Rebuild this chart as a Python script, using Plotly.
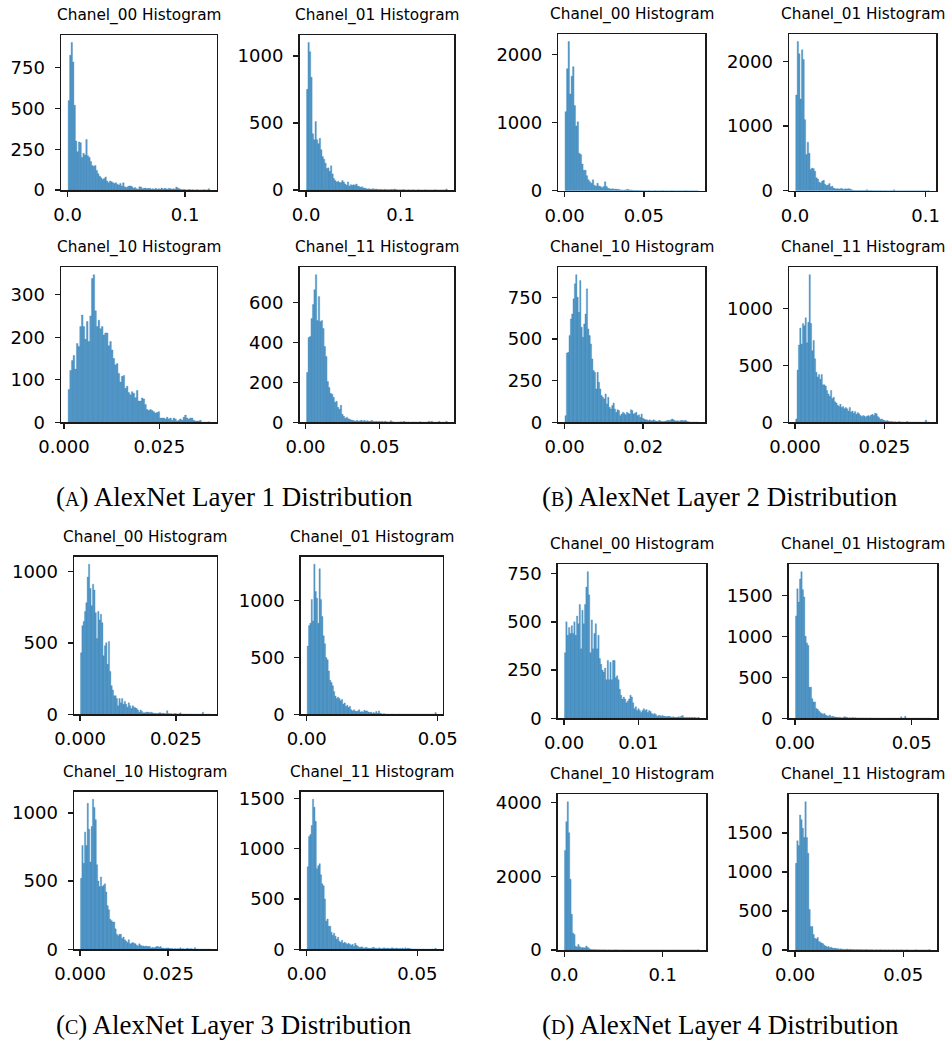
import plotly.graph_objects as go

W, H = 947, 1044

# ---------------- data (bin counts) ----------------
names = ["Chanel_00 Histogram", "Chanel_01 Histogram", "Chanel_10 Histogram", "Chanel_11 Histogram"]
captions = ["(<span style='font-size:20px'>A</span>) AlexNet Layer 1 Distribution",
            "(<span style='font-size:20px'>B</span>) AlexNet Layer 2 Distribution",
            "(<span style='font-size:20px'>C</span>) AlexNet Layer 3 Distribution",
            "(<span style='font-size:20px'>D</span>) AlexNet Layer 4 Distribution"]

# value range covered by the bins of each panel (lo, hi)
a00_range = [0.00035, 0.12096]
a01_range = [0.0004, 0.1493]
a10_range = [0.00107, 0.03818]
a11_range = [0.0007, 0.0957]
b00_range = [0.0002, 0.08439]
b01_range = [0.00052, 0.1028]
b10_range = [0.0001, 0.03404]
b11_range = [0.00019, 0.03759]
c00_range = [0.0001, 0.03396]
c01_range = [0.00017, 0.04945]
c10_range = [0.0001, 0.03694]
c11_range = [0.0002, 0.05853]
d00_range = [0.00005, 0.0182]
d01_range = [0.00018, 0.05797]
d10_range = [0.0002, 0.1371]
d11_range = [0.00015, 0.0625]

a00_counts = [548, 826, 905, 785, 520, 300, 235, 295, 290, 200,
              225, 215, 310, 210, 200, 175, 150, 145, 150, 120,
              100, 85, 75, 65, 70, 80, 55, 45, 55, 50,
              45, 40, 45, 35, 30, 40, 25, 45, 20, 15,
              20, 25, 25, 20, 10, 15, 8, 5, 20, 18,
              8, 10, 12, 8, 10, 10, 5, 8, 5, 10,
              5, 8, 5, 12, 5, 10, 8, 5, 10, 8,
              5, 8, 5, 18, 12, 8, 3, 2, 3, 2,
              0, 2, 3, 0, 2, 0, 0, 2, 0, 0,
              0, 0, 2, 0, 0, 8]
a01_counts = [750, 1100, 1030, 840, 420, 375, 510, 375, 345, 385,
              300, 250, 230, 200, 160, 165, 140, 180, 120, 85,
              70, 60, 65, 55, 55, 70, 60, 45, 35, 60,
              30, 40, 35, 40, 35, 45, 30, 25, 20, 25,
              15, 15, 10, 8, 10, 5, 8, 10, 5, 8,
              5, 3, 5, 3, 2, 5, 3, 2, 3, 2,
              5, 2, 8, 3, 2, 0, 2, 0, 3, 2,
              0, 0, 2, 0, 0, 2, 0, 0, 0, 2,
              0, 0, 0, 0, 2, 0, 0, 0, 0, 0,
              0, 2, 0, 0, 0, 0, 0, 0, 0, 8]
a10_counts = [77, 122, 145, 157, 125, 185, 178, 225, 252, 225,
              195, 237, 190, 250, 338, 347, 262, 225, 240, 220,
              225, 205, 210, 210, 180, 190, 170, 150, 135, 138,
              115, 95, 108, 110, 80, 85, 70, 65, 72, 68,
              58, 75, 50, 50, 57, 55, 42, 30, 28, 30,
              28, 25, 22, 23, 25, 10, 10, 10, 8, 12,
              8, 10, 5, 10, 8, 3, 5, 8, 5, 12,
              17, 10, 7, 10, 10, 5, 3, 3, 3, 5,
              0, 0, 0, 0, 1]
a11_counts = [250, 425, 430, 520, 590, 665, 740, 510, 630, 505,
              510, 470, 380, 330, 205, 175, 145, 140, 125, 100,
              105, 75, 65, 85, 40, 30, 20, 25, 18, 15,
              12, 10, 8, 5, 10, 5, 8, 10, 5, 10,
              5, 8, 5, 5, 10, 5, 3, 5, 3, 5,
              3, 5, 2, 5, 3, 2, 2, 8, 3, 2,
              0, 0, 2, 0, 3, 0, 5, 2, 0, 2,
              0, 0, 2, 0, 2, 0, 0, 3, 0, 0,
              0, 0, 0, 5, 2, 5, 0, 0, 0, 0,
              5, 0, 0, 0, 0, 5]
b00_counts = [1160, 1790, 2190, 1420, 1680, 1820, 1250, 950, 1010, 550,
              530, 390, 300, 300, 220, 160, 130, 110, 160, 80,
              65, 110, 70, 60, 45, 60, 130, 60, 35, 30,
              25, 30, 20, 25, 20, 20, 10, 12, 8, 10,
              15, 20, 10, 12, 5, 5, 3, 5, 3, 2,
              2, 0, 2, 0, 0, 2, 0, 0, 0, 2,
              0, 0, 0, 0, 2, 0, 0, 0, 0, 0,
              2, 0, 0, 0, 0, 0, 0, 0, 0, 2,
              0, 0, 0, 0, 0, 0, 0, 1]
b01_counts = [1480, 2310, 2120, 1420, 2180, 2030, 1100, 560, 750, 580,
              330, 350, 340, 300, 200, 180, 130, 120, 150, 160,
              100, 80, 90, 110, 60, 70, 40, 30, 30, 30,
              25, 35, 30, 20, 30, 25, 30, 30, 20, 10,
              5, 5, 3, 5, 2, 5, 3, 2, 3, 15,
              3, 2, 3, 2, 0, 2, 0, 2, 0, 2,
              0, 0, 2, 0, 0, 0, 2, 0, 15, 0,
              0, 0, 0, 0, 0, 0, 0, 0, 0, 0,
              0, 0, 0, 0, 0, 0, 0, 0, 0, 0,
              0, 0, 2]
b10_counts = [40, 415, 420, 520, 620, 650, 740, 830, 885, 750,
              660, 850, 570, 510, 590, 650, 800, 560, 520, 470,
              380, 310, 300, 200, 300, 240, 200, 160, 150, 140,
              170, 110, 150, 90, 80, 100, 115, 80, 60, 75,
              70, 40, 50, 60, 55, 45, 60, 55, 50, 75,
              70, 50, 55, 60, 40, 45, 30, 50, 25, 20,
              15, 15, 10, 15, 10, 10, 15, 10, 8, 5,
              12, 10, 5, 5, 5, 8, 10, 12, 10, 15,
              20, 15, 10, 8, 10, 5, 10, 12, 10, 10,
              12, 5, 3, 2, 0, 0, 2, 0, 0, 2]
b11_counts = [30, 460, 680, 830, 690, 870, 850, 920, 700, 880,
              1300, 870, 630, 720, 560, 440, 400, 420, 380, 420,
              330, 330, 320, 280, 250, 230, 280, 210, 220, 180,
              170, 150, 140, 160, 130, 140, 120, 130, 120, 100,
              130, 90, 100, 80, 95, 70, 85, 75, 60, 50,
              60, 55, 45, 55, 60, 50, 65, 70, 60, 80,
              75, 50, 40, 25, 30, 20, 15, 10, 15, 10,
              5, 8, 5, 3, 5, 3, 2, 8, 3, 2,
              2, 0, 2, 8, 0, 2, 0, 0, 2, 0,
              0, 0, 2, 0, 0, 0, 2, 20, 0, 3]
c00_counts = [430, 620, 650, 720, 780, 960, 1050, 880, 760, 910,
              870, 710, 530, 720, 660, 700, 640, 410, 480, 500,
              350, 510, 300, 200, 170, 130, 130, 110, 60, 110,
              80, 110, 70, 90, 70, 50, 80, 60, 40, 60,
              50, 45, 40, 30, 15, 30, 20, 10, 10, 15,
              15, 15, 10, 15, 10, 5, 8, 5, 5, 10,
              10, 5, 8, 5, 3, 25, 5, 3, 5, 2,
              3, 5, 3, 2, 3, 10, 2, 0, 2, 0,
              2, 0, 0, 2, 0, 0, 0, 0, 0, 0,
              0, 2, 15, 0, 0, 0, 0, 2]
c01_counts = [600, 780, 800, 1010, 820, 1320, 1080, 1020, 800, 1280,
              1010, 860, 690, 620, 500, 480, 380, 300, 280, 250,
              200, 160, 140, 150, 140, 120, 130, 90, 100, 70,
              80, 60, 70, 40, 30, 40, 30, 25, 30, 40,
              20, 25, 20, 35, 30, 30, 20, 15, 20, 10,
              15, 10, 25, 10, 30, 10, 5, 3, 5, 2,
              0, 2, 0, 0, 2, 0, 0, 0, 0, 2,
              0, 0, 0, 0, 0, 0, 2, 0, 0, 0,
              0, 0, 0, 0, 0, 0, 0, 0, 0, 0,
              0, 0, 0, 0, 0, 0, 0, 15]
c10_counts = [520, 760, 630, 860, 760, 1070, 880, 640, 900, 1100,
              1040, 950, 620, 500, 460, 530, 460, 470, 480, 420,
              320, 290, 220, 210, 200, 200, 150, 110, 100, 110,
              110, 80, 90, 70, 60, 50, 70, 40, 45, 50,
              45, 40, 30, 25, 40, 30, 25, 25, 20, 25,
              20, 20, 20, 10, 15, 10, 15, 20, 20, 15,
              20, 10, 10, 5, 8, 10, 10, 5, 5, 5,
              3, 5, 3, 5, 3, 12, 3, 5, 3, 3,
              8, 5, 3, 5, 3, 2, 12, 0, 2, 0,
              0, 0, 0, 0, 0, 0, 0, 2]
c11_counts = [820, 1120, 1140, 1230, 1490, 1410, 1270, 800, 830, 850,
              740, 650, 630, 500, 280, 300, 230, 230, 170, 140,
              160, 130, 100, 120, 80, 70, 90, 60, 70, 60,
              50, 60, 50, 40, 50, 30, 60, 40, 30, 20,
              20, 25, 15, 10, 20, 15, 10, 10, 10, 15,
              20, 10, 10, 5, 15, 10, 5, 10, 15, 8,
              10, 12, 5, 10, 15, 10, 5, 12, 10, 5,
              10, 5, 12, 3, 15, 5, 12, 8, 5, 3,
              2, 3, 2, 0, 2, 0, 0, 0, 2, 0,
              0, 0, 0, 0, 0, 2, 0, 10]
d00_counts = [340, 500, 430, 470, 440, 480, 440, 500, 430, 530,
              490, 590, 360, 560, 490, 590, 680, 760, 640, 340,
              510, 360, 440, 490, 360, 430, 310, 280, 250, 240,
              260, 200, 300, 200, 290, 200, 300, 300, 210, 220,
              200, 150, 120, 100, 110, 100, 80, 90, 100, 120,
              110, 80, 50, 60, 40, 50, 40, 30, 40, 50,
              40, 45, 30, 40, 35, 25, 20, 25, 20, 10,
              15, 15, 10, 15, 10, 10, 8, 10, 10, 8,
              5, 8, 5, 5, 5, 8, 5, 10, 15, 5,
              3, 5, 3, 5, 3, 5, 3, 5, 3, 2, 5]
d01_counts = [1250, 1580, 1420, 1700, 1790, 1570, 1480, 1000, 920, 890,
              380, 380, 240, 200, 200, 120, 110, 90, 70, 60,
              50, 60, 40, 30, 25, 40, 20, 25, 20, 15,
              15, 10, 12, 10, 5, 10, 20, 15, 10, 5,
              8, 5, 10, 5, 8, 3, 5, 5, 3, 5,
              3, 2, 5, 3, 2, 5, 2, 0, 2, 3,
              0, 2, 0, 2, 0, 0, 2, 0, 0, 2,
              0, 0, 0, 2, 0, 0, 2, 0, 20, 0,
              3, 25, 0, 0, 0, 0, 0, 0, 0, 0,
              0, 0, 0, 0, 0, 0, 0, 0, 0, 2]
d10_counts = [2700, 3480, 4020, 3180, 1920, 970, 460, 420, 100, 80,
              150, 90, 60, 70, 60, 60, 110, 70, 40, 20,
              10, 10, 15, 5, 8, 5, 5, 3, 5, 3,
              5, 3, 2, 5, 3, 2, 3, 2, 5, 2,
              3, 2, 0, 2, 3, 0, 2, 0, 2, 0,
              3, 0, 2, 0, 0, 2, 0, 0, 2, 0,
              0, 2, 0, 0, 0, 2, 0, 0, 0, 2,
              0, 0, 0, 0, 2, 0, 0, 0, 0, 0,
              0, 2, 0, 0, 0, 0, 0, 0, 0, 0,
              0, 0, 0, 0, 0, 0, 0, 0, 0, 0, 5]
d11_counts = [1110, 1400, 1340, 1730, 1670, 1560, 1440, 1900, 1440, 1240,
              520, 300, 300, 200, 150, 140, 160, 110, 100, 90,
              80, 60, 50, 40, 45, 30, 35, 25, 20, 25,
              15, 20, 10, 15, 10, 10, 8, 10, 12, 8,
              10, 5, 8, 5, 3, 5, 5, 3, 5, 3,
              2, 3, 5, 2, 3, 2, 3, 2, 0, 2,
              3, 0, 2, 3, 0, 2, 0, 2, 0, 2,
              0, 0, 2, 0, 0, 2, 0, 0, 3, 0,
              0, 0, 2, 0, 0, 0, 0, 0, 0, 2,
              0, 0, 0, 0, 0, 0, 0, 0, 0, 5]

# tick values / labels per panel
a00_xt = [0.0, 0.1];   a00_xl = ["0.0", "0.1"];     a00_yt = [0, 250, 500, 750]
a01_xt = [0.0, 0.1];   a01_xl = ["0.0", "0.1"];     a01_yt = [0, 500, 1000]
a10_xt = [0.0, 0.025]; a10_xl = ["0.000", "0.025"]; a10_yt = [0, 100, 200, 300]
a11_xt = [0.0, 0.05];  a11_xl = ["0.00", "0.05"];   a11_yt = [0, 200, 400, 600]
b00_xt = [0.0, 0.05];  b00_xl = ["0.00", "0.05"];   b00_yt = [0, 1000, 2000]
b01_xt = [0.0, 0.1];   b01_xl = ["0.0", "0.1"];     b01_yt = [0, 1000, 2000]
b10_xt = [0.0, 0.02];  b10_xl = ["0.00", "0.02"];   b10_yt = [0, 250, 500, 750]
b11_xt = [0.0, 0.025]; b11_xl = ["0.000", "0.025"]; b11_yt = [0, 500, 1000]
c00_xt = [0.0, 0.025]; c00_xl = ["0.000", "0.025"]; c00_yt = [0, 500, 1000]
c01_xt = [0.0, 0.05];  c01_xl = ["0.00", "0.05"];   c01_yt = [0, 500, 1000]
c10_xt = [0.0, 0.025]; c10_xl = ["0.000", "0.025"]; c10_yt = [0, 500, 1000]
c11_xt = [0.0, 0.05];  c11_xl = ["0.00", "0.05"];   c11_yt = [0, 500, 1000, 1500]
d00_xt = [0.0, 0.01];  d00_xl = ["0.00", "0.01"];   d00_yt = [0, 250, 500, 750]
d01_xt = [0.0, 0.05];  d01_xl = ["0.00", "0.05"];   d01_yt = [0, 500, 1000, 1500]
d10_xt = [0.0, 0.1];   d10_xl = ["0.0", "0.1"];     d10_yt = [0, 2000, 4000]
d11_xt = [0.0, 0.05];  d11_xl = ["0.00", "0.05"];   d11_yt = [0, 500, 1000, 1500]

# ---------------- layout (pixel boxes of each panel: x0, x1, y0, y1) ----------------
panels = [
    (a00_range, a00_counts, a00_xt, a00_xl, a00_yt, names[0], (61, 216.7, 35, 190)),
    (a01_range, a01_counts, a01_xt, a01_xl, a01_yt, names[1], (299.5, 454.3, 35, 190)),
    (a10_range, a10_counts, a10_xt, a10_xl, a10_yt, names[2], (61, 216.7, 267.3, 422.3)),
    (a11_range, a11_counts, a11_xt, a11_xl, a11_yt, names[3], (299.5, 454.3, 267.3, 422.3)),
    (b00_range, b00_counts, b00_xt, b00_xl, b00_yt, names[0], (558.3, 705, 34, 190.7)),
    (b01_range, b01_counts, b01_xt, b01_xl, b01_yt, names[1], (789, 936, 34, 190.7)),
    (b10_range, b10_counts, b10_xt, b10_xl, b10_yt, names[2], (558.3, 705, 267.3, 422.3)),
    (b11_range, b11_counts, b11_xt, b11_xl, b11_yt, names[3], (789, 936, 267.3, 422.3)),
    (c00_range, c00_counts, c00_xt, c00_xl, c00_yt, names[0], (74, 216.7, 556.7, 714.3)),
    (c01_range, c01_counts, c01_xt, c01_xl, c01_yt, names[1], (300.7, 442.7, 556.7, 714.3)),
    (c10_range, c10_counts, c10_xt, c10_xl, c10_yt, names[2], (74, 216.7, 791.7, 949.3)),
    (c11_range, c11_counts, c11_xt, c11_xl, c11_yt, names[3], (300.7, 442.7, 791.7, 949.3)),
    (d00_range, d00_counts, d00_xt, d00_xl, d00_yt, names[0], (557.7, 706, 564.3, 718.3)),
    (d01_range, d01_counts, d01_xt, d01_xl, d01_yt, names[1], (788.7, 937, 564.3, 718.3)),
    (d10_range, d10_counts, d10_xt, d10_xl, d10_yt, names[2], (557.7, 706, 794.3, 950)),
    (d11_range, d11_counts, d11_xt, d11_xl, d11_yt, names[3], (788.7, 937, 794.3, 950)),
]
caption_pos = [(234, 497), (720, 497), (234, 1025), (720, 1025)]

BAR_FILL = "rgba(31,119,180,0.72)"
BAR_EDGE = "rgba(31,119,180,0.95)"
AXIS_COLOR = "#1a1a1a"
TICK_FONT = dict(family="DejaVu Sans", size=18, color="black")

fig = go.Figure()
layout = dict(
    width=W, height=H, margin=dict(l=0, r=0, t=0, b=0, autoexpand=False),
    paper_bgcolor="white", plot_bgcolor="white", showlegend=False,
    font=dict(family="DejaVu Sans", color="black"),
)
annotations = []

for k, (rng, counts, xt, xl, yt, title, box) in enumerate(panels):
    s = "" if k == 0 else str(k + 1)
    lo, hi = rng
    n = len(counts)
    w = (hi - lo) / n
    centers = [lo + (i + 0.5) * w for i in range(n)]
    fig.add_trace(go.Bar(
        x=centers, y=counts, width=w, xaxis="x" + s, yaxis="y" + s,
        marker=dict(color=BAR_FILL, line=dict(color=BAR_EDGE, width=0.3)),
        hoverinfo="skip",
    ))
    x0, x1, y0, y1 = box
    pad = 0.05 * (hi - lo)
    layout["xaxis" + s] = dict(
        domain=[x0 / W, x1 / W], anchor="y" + s, range=[lo - pad, hi + pad],
        tickvals=xt, ticktext=xl, ticks="outside", ticklen=5, tickwidth=1.4,
        tickcolor=AXIS_COLOR, showline=True, mirror=True, linecolor=AXIS_COLOR,
        linewidth=1.5, showgrid=False, zeroline=False, tickfont=TICK_FONT,
        ticklabelstandoff=3, automargin=False,
    )
    layout["yaxis" + s] = dict(
        domain=[1 - y1 / H, 1 - y0 / H], anchor="x" + s,
        range=[0, 1.05 * max(counts)],
        tickvals=yt, ticktext=[str(v) for v in yt], ticks="outside", ticklen=5,
        tickwidth=1.4, tickcolor=AXIS_COLOR, showline=True, mirror=True,
        linecolor=AXIS_COLOR, linewidth=1.5, showgrid=False, zeroline=False,
        tickfont=TICK_FONT, ticklabelstandoff=6, automargin=False,
    )
    annotations.append(dict(
        text=title, xref="paper", yref="paper", x=(x0 + x1) / 2 / W,
        y=1 - (y0 - 8) / H, xanchor="center", yanchor="bottom", showarrow=False,
        font=dict(family="DejaVu Sans", size=15.3, color="black"),
    ))

for cap, (cx, cy) in zip(captions, caption_pos):
    annotations.append(dict(
        text=cap, xref="paper", yref="paper", x=cx / W, y=1 - cy / H,
        xanchor="center", yanchor="middle", showarrow=False,
        font=dict(family="Liberation Serif", size=27, color="black"),
    ))

layout["annotations"] = annotations
layout["bargap"] = 0
fig.update_layout(**layout)
fig.write_html("out.html",
               config={"displayModeBar": False, "staticPlot": True},
               post_script="document.body.style.margin='0px';document.body.style.overflow='hidden';")
